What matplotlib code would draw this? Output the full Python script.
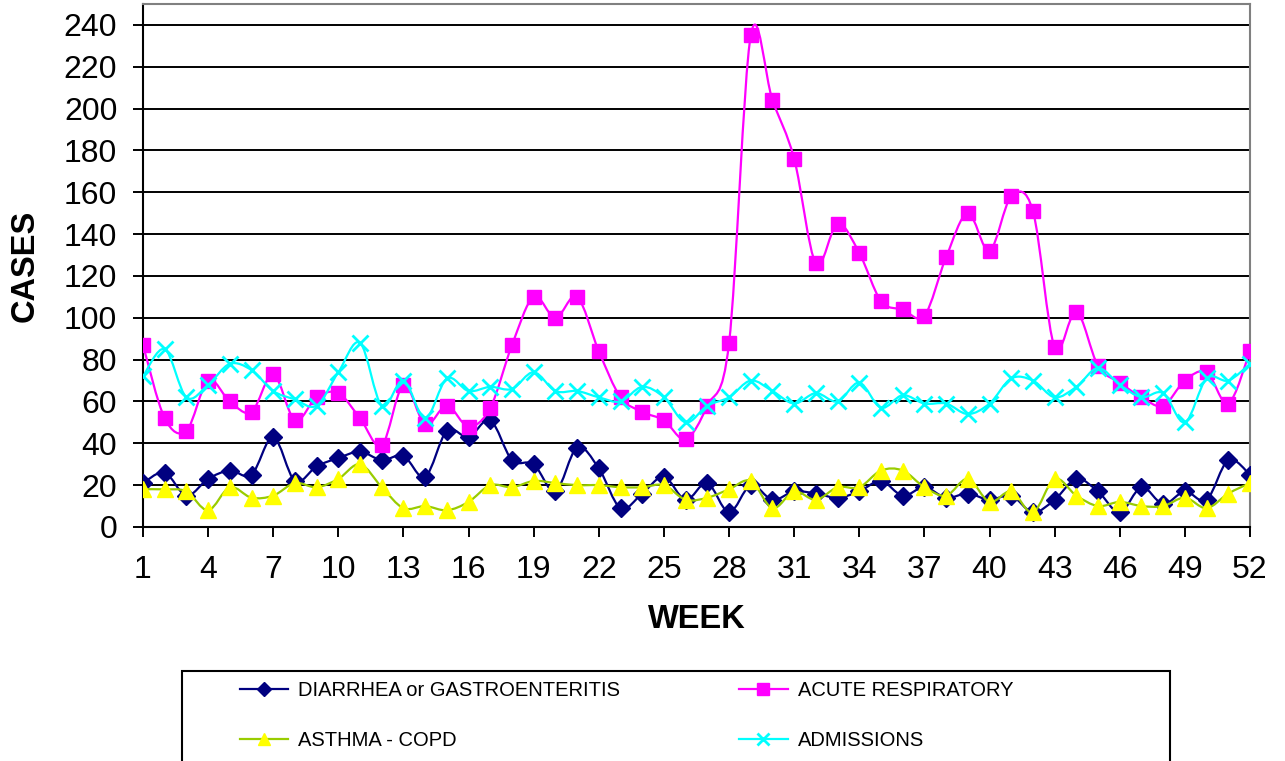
import numpy as np
import matplotlib
matplotlib.use("Agg")
import matplotlib.pyplot as plt
from matplotlib.path import Path
from matplotlib.patches import PathPatch, Rectangle
from matplotlib.lines import Line2D

plt.rcParams["font.family"] = ["Liberation Sans", "DejaVu Sans"]

# weekly case counts
weeks = np.arange(1, 53)
diarrhea = [21, 26, 15, 23, 27, 25, 43, 22, 29, 33,
            36, 32, 34, 24, 46, 43, 51, 32, 30, 17,
            38, 28, 9, 16, 24, 13, 21, 7, 20, 13,
            17, 16, 14, 17, 22, 15, 19, 14, 16, 13,
            15, 7, 13, 23, 17, 7, 19, 11, 17, 13,
            32, 25]
acute_resp = [87, 52, 46, 70, 60, 55, 73, 51, 62, 64,
              52, 39, 68, 49, 58, 48, 57, 87, 110, 100,
              110, 84, 62, 55, 51, 42, 58, 88, 235, 204,
              176, 126, 145, 131, 108, 104, 101, 129, 150, 132,
              158, 151, 86, 103, 77, 69, 62, 58, 70, 74,
              59, 84]
asthma = [18, 18, 17, 8, 19, 14, 15, 21, 19, 23,
          30, 19, 9, 10, 8, 12, 20, 19, 22, 21,
          20, 20, 19, 19, 20, 13, 14, 18, 22, 9,
          17, 13, 19, 19, 27, 27, 19, 15, 23, 12,
          17, 7, 23, 15, 10, 12, 10, 10, 14, 9,
          16, 21]
admissions = [72, 85, 62, 68, 78, 75, 65, 61, 58, 74,
              88, 58, 70, 52, 71, 65, 67, 66, 74, 65,
              65, 62, 60, 67, 62, 50, 58, 62, 70, 65,
              59, 64, 60, 69, 57, 63, 59, 59, 54, 59,
              71, 70, 62, 67, 76, 68, 62, 64, 50, 71,
              70, 78]

x_ticks = list(range(1, 53, 3))
y_ticks = list(range(0, 241, 20))

# (label, values, line colour, marker, marker face, marker edge, size)
series = [
    ("DIARRHEA or GASTROENTERITIS", diarrhea, "#000080", "D", "#000080", "#000080", 9.5),
    ("ACUTE RESPIRATORY", acute_resp, "#FF00FF", "s", "#FF00FF", "#FF00FF", 10.5),
    ("ASTHMA - COPD", asthma, "#99CC00", "^", "#FFFF00", "#FFFF00", 11),
    ("ADMISSIONS", admissions, "#00FFFF", "x", "none", "#00FFFF", 11),
]


def smooth_path(x, y):
    """Excel-style smoothed line: cubic Bezier through every point."""
    pts = np.column_stack([x, y]).astype(float)
    prev = np.vstack([pts[:1], pts[:-1]])
    nxt = np.vstack([pts[1:], pts[-1:]])
    tang = (nxt - prev) / 6.0
    verts = [pts[0]]
    codes = [Path.MOVETO]
    for i in range(len(pts) - 1):
        verts += [pts[i] + tang[i], pts[i + 1] - tang[i + 1], pts[i + 1]]
        codes += [Path.CURVE4] * 3
    return Path(verts, codes)


W, H = 1285, 761
fig = plt.figure(figsize=(W / 100, H / 100), dpi=100)
ax = fig.add_axes([143 / W, 1 - 527 / H, (1250 - 143) / W, (527 - 4) / H])

handles = {}
for label, vals, lc, mk, mfc, mec, ms in series:
    ax.add_patch(PathPatch(smooth_path(weeks, vals), fill=False,
                           edgecolor=lc, lw=1.6, zorder=3))
    ax.plot(weeks, vals, linestyle="none", marker=mk, markersize=ms,
            markerfacecolor=mfc, markeredgecolor=mec, markeredgewidth=2 if mk == "x" else 1,
            zorder=3)
    handles[label] = Line2D([], [], color=lc, lw=1.6, marker=mk, markersize=ms * 0.8,
                            markerfacecolor=mfc, markeredgecolor=mec,
                            markeredgewidth=2 if mk == "x" else 1)

ax.set_xlim(1, 52)
ax.set_ylim(0, 250)
ax.set_xticks(x_ticks)
ax.set_yticks(y_ticks)
ax.tick_params(axis="both", labelsize=23, length=7.5, width=1.4, direction="out")
ax.tick_params(axis="y", pad=11)
ax.tick_params(axis="x", pad=13)
ax.yaxis.grid(True, color="black", lw=1.4)
ax.set_axisbelow(True)
for side in ("left", "bottom"):
    ax.spines[side].set_linewidth(1.5)
for side in ("top", "right"):
    ax.spines[side].set_color("#808080")
    ax.spines[side].set_linewidth(1.5)

ax.set_xlabel("WEEK", fontsize=23.5, fontweight="bold", labelpad=13)
ax.set_ylabel("CASES", fontsize=23.5, fontweight="bold", labelpad=17)

# legend box (runs off the bottom edge like the original)
fig.add_artist(Rectangle((182 / W, -0.05), (1170 - 182) / W, 0.05 + (761 - 671) / H,
                         transform=fig.transFigure, fill=False, edgecolor="black", lw=1.5))
order = ["DIARRHEA or GASTROENTERITIS", "ASTHMA - COPD", "ACUTE RESPIRATORY", "ADMISSIONS"]
fig.legend([handles[k] for k in order], order, ncol=2, loc="upper left",
           bbox_to_anchor=(240 / W, 1 - 681 / H), frameon=False, fontsize=14.5,
           handlelength=2.4, handletextpad=0.5, columnspacing=5.9,
           labelspacing=1.55, borderpad=0, borderaxespad=0)

fig.savefig("out.png", dpi=100)
